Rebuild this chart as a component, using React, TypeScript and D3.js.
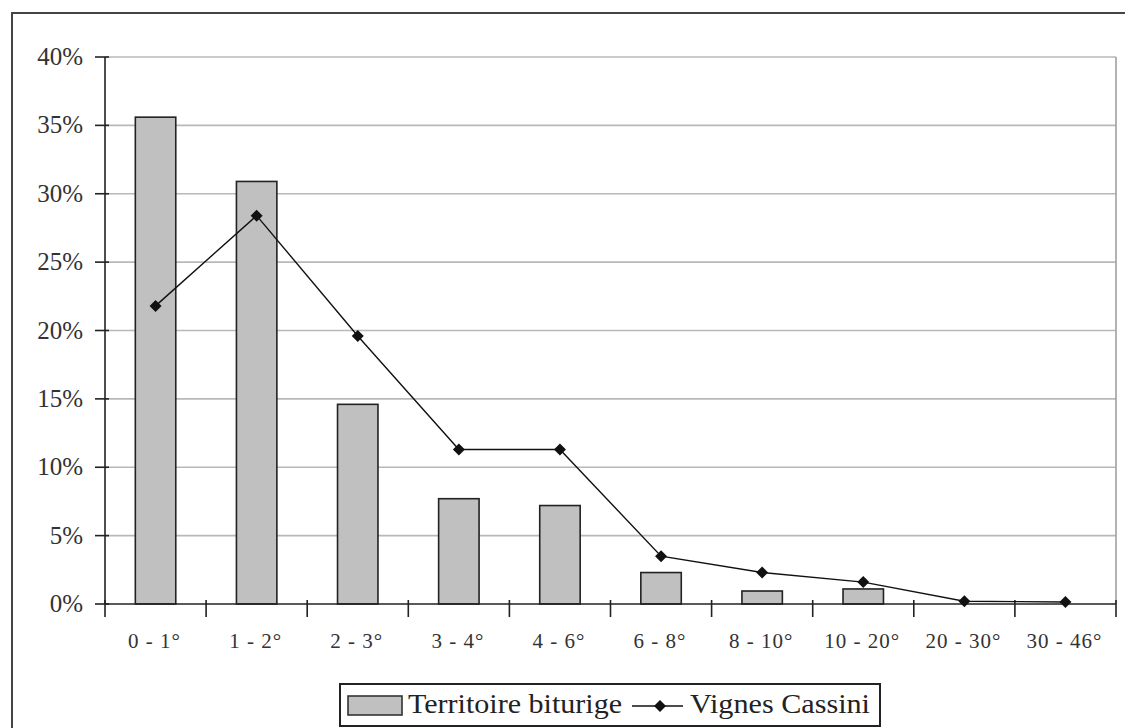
import React from "react";
import * as d3 from "d3";

const categories = ["0 - 1°", "1 - 2°", "2 - 3°", "3 - 4°", "4 - 6°", "6 - 8°", "8 - 10°", "10 - 20°", "20 - 30°", "30 - 46°"];
const territoire = [35.6, 30.9, 14.6, 7.7, 7.2, 2.3, 0.95, 1.1, 0, 0];
const vignes = [21.8, 28.4, 19.6, 11.3, 11.3, 3.5, 2.3, 1.6, 0.2, 0.15];
const yTicks = [0, 5, 10, 15, 20, 25, 30, 35, 40];
const seriesNames = ["Territoire biturige", "Vignes Cassini"];

const W = 1125, H = 728;
const plot = { left: 105, right: 1116, top: 57, bottom: 604 };
const FONT = "'Liberation Serif', 'Times New Roman', serif";

export default function App() {
  const x = d3.scaleBand<string>().domain(categories).range([plot.left, plot.right]).paddingInner(0.6).paddingOuter(0.3);
  const band = d3.scaleBand<string>().domain(categories).range([plot.left, plot.right]);
  const y = d3.scaleLinear().domain([0, 40]).range([plot.bottom, plot.top]);
  const cx = (i: number) => (band(categories[i]) as number) + band.bandwidth() / 2;
  const line = d3.line<number>().x((_, i) => cx(i)).y((d) => y(d));
  const marker = d3.symbol().type(d3.symbolSquare).size(72)() as string;

  return (
    <svg width={W} height={H} style={{ position: "absolute", left: 0, top: 0, background: "#fff" }} fontFamily={FONT}>
      <rect x={0} y={0} width={W} height={H} fill="#fff" />
      {/* outer border */}
      <rect x={12} y={13} width={W + 20} height={H + 20} fill="none" stroke="#444" strokeWidth={2} />
      {/* gridlines */}
      {yTicks.filter((t) => t > 0).map((t) => (
        <line key={t} x1={plot.left} x2={plot.right} y1={y(t)} y2={y(t)} stroke="#b8b8b8" strokeWidth={1.6} />
      ))}
      <line x1={plot.right} x2={plot.right} y1={plot.top} y2={plot.bottom} stroke="#a0a0a0" strokeWidth={1.6} />
      {/* bars */}
      {territoire.map((v, i) => (
        v > 0 ? (
          <rect key={i} x={x(categories[i])} y={y(v)} width={x.bandwidth()} height={plot.bottom - y(v)}
            fill="#c0c0c0" stroke="#222" strokeWidth={1.6} />
        ) : null
      ))}
      {/* axes */}
      <line x1={plot.left} x2={plot.left} y1={plot.top} y2={plot.bottom} stroke="#222" strokeWidth={1.6} />
      <line x1={plot.left} x2={plot.right} y1={plot.bottom} y2={plot.bottom} stroke="#222" strokeWidth={1.6} />
      {yTicks.map((t) => (
        <g key={t}>
          <line x1={plot.left - 10} x2={plot.left + 4} y1={y(t)} y2={y(t)} stroke="#222" strokeWidth={1.6} />
          <text x={83} y={y(t) + 8} textAnchor="end" fontSize={25} fill="#333">{t}%</text>
        </g>
      ))}
      {categories.map((c, i) => (
        <line key={i} x1={band(c) as number} x2={band(c) as number} y1={plot.bottom - 4} y2={plot.bottom + 13} stroke="#222" strokeWidth={1.6} />
      ))}
      <line x1={plot.right} x2={plot.right} y1={plot.bottom - 4} y2={plot.bottom + 13} stroke="#222" strokeWidth={1.6} />
      {categories.map((c, i) => (
        <text key={c} x={cx(i) - 1} y={648} textAnchor="middle" fontSize={21} letterSpacing={1} fill="#333">{c}</text>
      ))}
      {/* line series */}
      <path d={line(vignes) as string} fill="none" stroke="#111" strokeWidth={1.4} />
      {vignes.map((v, i) => (
        <path key={i} d={marker} transform={`translate(${cx(i)},${y(v)}) rotate(45)`} fill="#111" />
      ))}
      {/* legend */}
      <rect x={340} y={684} width={540} height={42} fill="#fff" stroke="#222" strokeWidth={2} />
      <rect x={348} y={696} width={54} height={19} fill="#c0c0c0" stroke="#333" strokeWidth={1.6} />
      <text x={408} y={713} fontSize={28} fill="#222" textLength={214} lengthAdjust="spacingAndGlyphs">{seriesNames[0]}</text>
      <line x1={632} x2={683} y1={706} y2={706} stroke="#111" strokeWidth={1.6} />
      <path d={marker} transform="translate(660,706) rotate(45)" fill="#111" />
      <text x={690} y={713} fontSize={28} fill="#222" textLength={180} lengthAdjust="spacingAndGlyphs">{seriesNames[1]}</text>
    </svg>
  );
}
